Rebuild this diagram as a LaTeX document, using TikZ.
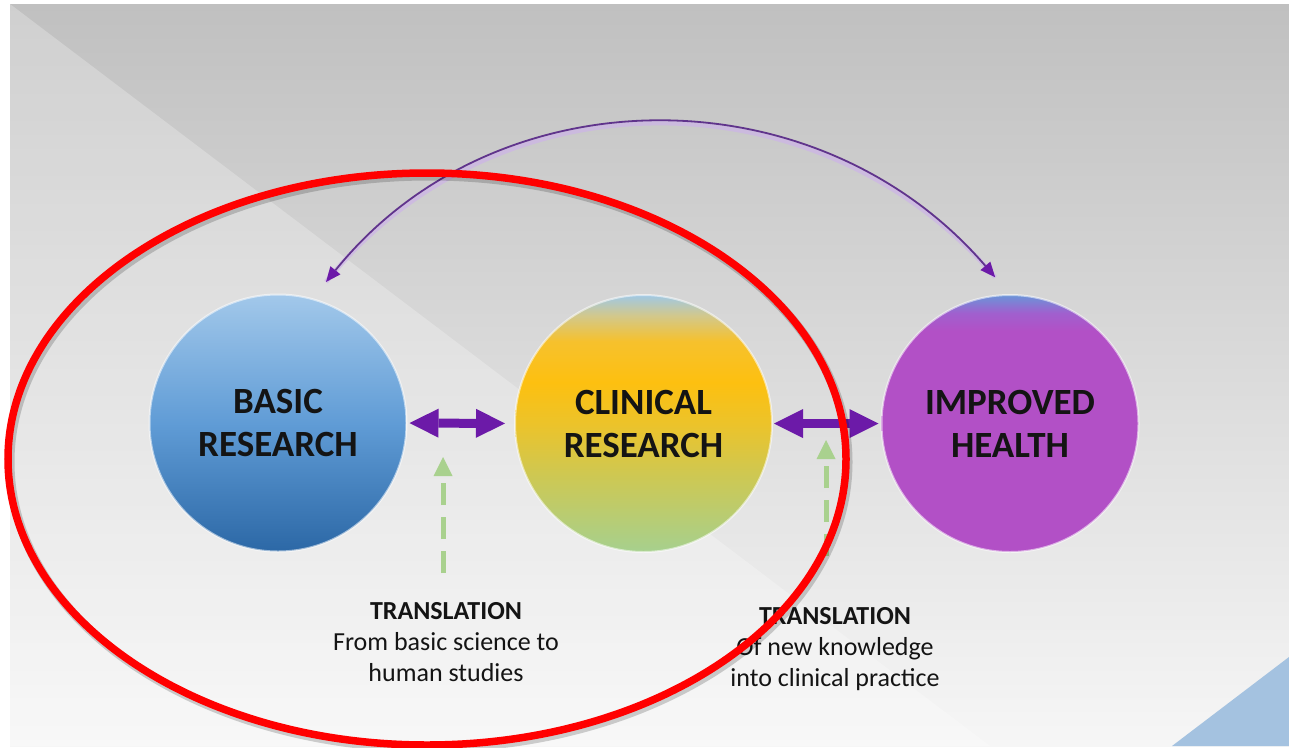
\documentclass[tikz,border=0pt]{standalone}
\usepackage{fontspec}
\setmainfont{Carlito}
\usetikzlibrary{arrows.meta,calc}

\definecolor{bgtop}{RGB}{192,192,192}
\definecolor{bgbot}{RGB}{246,246,246}
\definecolor{cornerblue}{RGB}{164,194,224}
\definecolor{bbot}{RGB}{44,104,166}
\definecolor{bmid}{RGB}{96,156,214}
\definecolor{btop}{RGB}{162,200,234}
\definecolor{ctop}{RGB}{160,200,228}
\definecolor{c1}{RGB}{210,200,140}
\definecolor{c2}{RGB}{246,193,45}
\definecolor{c3}{RGB}{253,192,16}
\definecolor{c4}{RGB}{236,195,42}
\definecolor{c5}{RGB}{206,200,82}
\definecolor{cbot}{RGB}{166,208,142}
\definecolor{itop}{RGB}{106,148,216}
\definecolor{i1}{RGB}{160,96,206}
\definecolor{imain}{RGB}{178,80,198}
\definecolor{arrowpurple}{RGB}{108,26,168}
\definecolor{arcpurple}{RGB}{96,52,140}
\definecolor{archalo}{RGB}{205,180,232}
\definecolor{dashgreen}{RGB}{169,209,142}
\definecolor{hired}{RGB}{255,0,0}
\definecolor{textblack}{RGB}{20,20,20}

\pgfdeclareverticalshading{basicsh}{100bp}{color(0bp)=(bbot); color(25bp)=(bbot); color(50bp)=(bmid); color(75bp)=(btop); color(100bp)=(btop)}
\pgfdeclareverticalshading{clinsh}{100bp}{color(0bp)=(cbot); color(25bp)=(cbot); color(40bp)=(c5); color(50bp)=(c4); color(58bp)=(c3); color(66bp)=(c2); color(71bp)=(c1); color(75bp)=(ctop); color(100bp)=(ctop)}
\pgfdeclareverticalshading{impsh}{100bp}{color(0bp)=(imain); color(25bp)=(imain); color(68bp)=(imain); color(71.5bp)=(i1); color(75bp)=(itop); color(100bp)=(itop)}

\tikzset{
  bubble/.style={circle, minimum size=257pt, inner sep=0pt, shade,
    draw=white, draw opacity=0.55, line width=2pt,
    font=\fontsize{37}{43}\selectfont\bfseries, text=textblack, align=center},
  dbl/.style={draw=arrowpurple, line width=9pt,
    arrows={Triangle[length=29pt,width=29pt,line width=0pt]-Triangle[length=29pt,width=29pt,line width=0pt]}},
  greendash/.style={draw=dashgreen, line width=5pt, dash pattern=on 22pt off 12pt,
    arrows={-Triangle[length=19pt,width=19pt,line width=0pt]}},
  archalostyle/.style={draw=archalo, line width=4.5pt, opacity=0.7},
  arcline/.style={draw=arcpurple, line width=1.8pt,
    arrows={Triangle[length=15pt,width=13pt,line width=0pt,fill=arrowpurple]-Triangle[length=15pt,width=13pt,line width=0pt,fill=arrowpurple]}},
  caption/.style={font=\fontsize{26}{31}\selectfont, text=textblack, align=center, inner sep=0pt, anchor=north}
}

\begin{document}
\begin{tikzpicture}[x=1pt,y=-1pt]
\useasboundingbox (0,0) rectangle (1289,747);
\fill[white] (0,0) rectangle (1289,747);
% background
\shade[top color=bgtop, bottom color=bgbot] (10,4) rectangle (1289,746);
\fill[white, opacity=0.25] (10,4) -- (990,746) -- (10,746) -- cycle;
\fill[cornerblue] (1289,657) -- (1172,746) -- (1289,746) -- cycle;

% circles
\node[bubble, shading=basicsh] (basic) at (278,423) {BASIC\\RESEARCH};
\node[bubble, shading=clinsh] (clinical) at (643.5,423.5) {CLINICAL\\RESEARCH};
\node[bubble, shading=impsh] (improved) at (1010,423.5) {IMPROVED\\HEALTH};

% double arrows
\draw[dbl, shorten <=2pt, shorten >=9pt] (basic.east) -- (clinical.west);
\draw[dbl, shorten <=1pt, shorten >=2pt] (clinical.east) -- (improved.west);

% top arc
\path (basic.center) ++(71.2:149pt) coordinate (arcL);
\path (improved.center) ++(95.8:147pt) coordinate (arcR);
\draw[archalostyle] (arcL) .. controls (496,71) and (818,71) .. (arcR);
\draw[arcline] (arcL) .. controls (496,71) and (818,71) .. (arcR);

% dashed green arrows
\coordinate (gA0) at (443,573);
\coordinate (gA1) at (443,457);
\coordinate (gB0) at (826,556);
\coordinate (gB1) at (826,440);
\draw[greendash] (gA0) -- (gA1);
\draw[greendash] (gB0) -- (gB1);

% captions
\node[caption] (capA) at (446,602) {\textbf{TRANSLATION}\\From basic science to\\human studies};
\node[caption] (capB) at (835,607) {\textbf{TRANSLATION}\\Of new knowledge\\into clinical practice};

% red highlight ellipse
\draw[black, opacity=0.18, line width=9pt] (429,462) ellipse [x radius=419pt, y radius=286pt];
\draw[hired, line width=7.5pt] (427,459) ellipse [x radius=419pt, y radius=286pt];
\end{tikzpicture}
\end{document}
